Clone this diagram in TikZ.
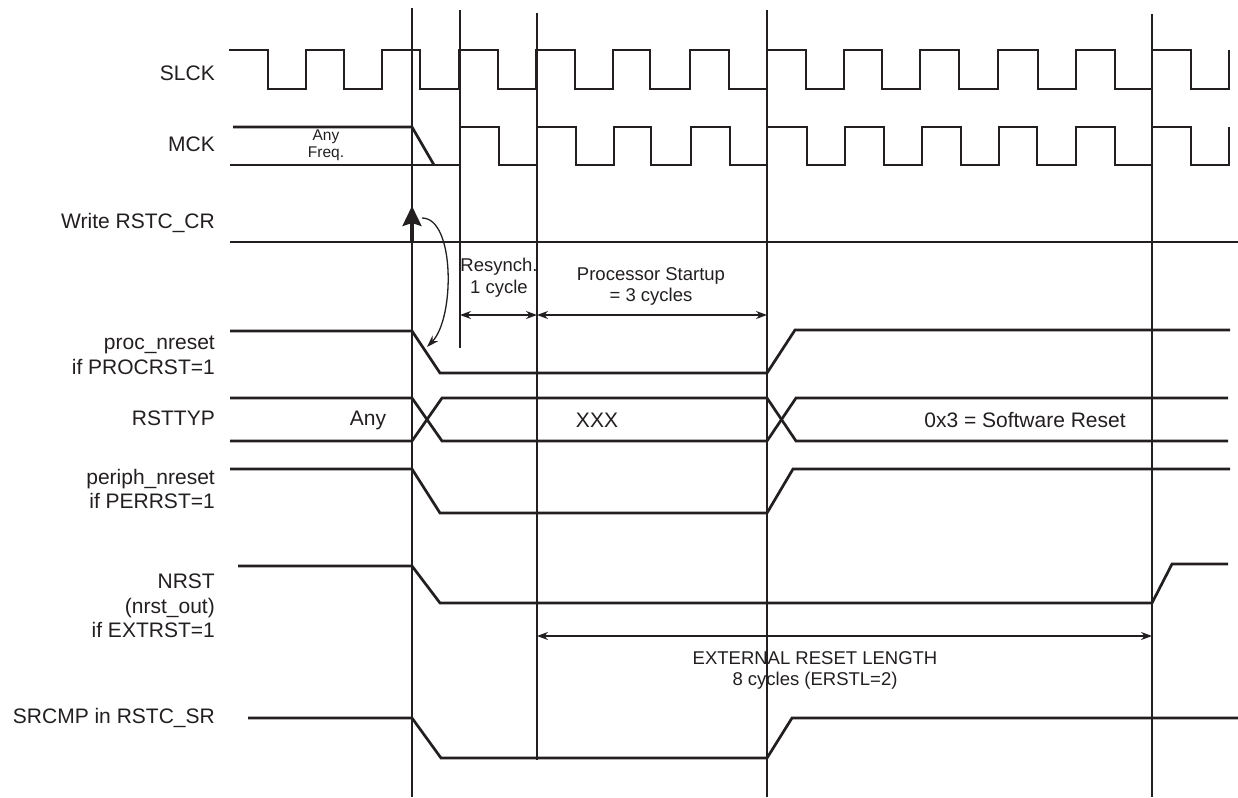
\documentclass[tikz,border=0pt]{standalone}
\usepackage{fontspec}
\setmainfont{Liberation Sans}
\usetikzlibrary{arrows.meta}
\definecolor{ink}{RGB}{35,31,32}
\tikzset{
  sig/.style={draw=ink, line width=2.7pt, line join=miter},
  guide/.style={draw=ink, line width=1.1pt},
  dim/.style={draw=ink, line width=1.2pt, {Stealth[length=11pt,width=8pt]}-{Stealth[length=11pt,width=8pt]}},
  lbl/.style={anchor=east, align=right, text=ink, inner sep=0pt, font=\fontsize{21}{24.5}\selectfont},
  val/.style={text=ink, inner sep=0pt, font=\fontsize{21}{24.5}\selectfont},
  note/.style={text=ink, align=center, inner sep=0pt, font=\fontsize{18.5}{21.5}\selectfont},
  small/.style={text=ink, align=center, inner sep=0pt, font=\fontsize{15.5}{17}\selectfont}
}
\begin{document}
\begin{tikzpicture}[x=1pt,y=-1pt]
\useasboundingbox[fill=white] (0,0) rectangle (1238,797);

% guide lines
\coordinate (g1t) at (412,8);   \coordinate (g1b) at (412,797);
\coordinate (g2t) at (460,10);  \coordinate (g2b) at (460,348);
\coordinate (g3t) at (537,13);  \coordinate (g3b) at (537,760);
\coordinate (g4t) at (767,10);  \coordinate (g4b) at (767,797);
\coordinate (g5t) at (1152,14); \coordinate (g5b) at (1152,797);
\draw[guide] (g1t) -- (g1b);
\draw[guide] (g2t) -- (g2b);
\draw[guide] (g3t) -- (g3b);
\draw[guide] (g4t) -- (g4b);
\draw[guide] (g5t) -- (g5b);

% labels
\node[lbl] (lslck) at (215,73) {SLCK};
\node[lbl] (lmck) at (215,144) {MCK};
\node[lbl] (lwr) at (215,223) {Write RSTC\_CR};
\node[lbl] (lproc) at (215,355.5) {proc\_nreset\\if PROCRST=1};
\node[lbl] (lrst) at (215,418) {RSTTYP};
\node[lbl] (lper) at (215,489) {periph\_nreset\\if PERRST=1};
\node[lbl] (lnrst) at (215,606) {NRST\\(nrst\_out)\\if EXTRST=1};
\node[lbl] (lsr) at (215,718) {SRCMP in RSTC\_SR};

% SLCK
\draw[sig] (229,50) -| (268,89) -| (306,50) -| (344,89) -| (382,50) -| (420,89) -| (459,50) -| (498,89) -| (536,50) -| (575,89) -| (613,50) -| (650,89) -| (690,50) -| (729,89) -| (767,50) -| (806,89) -| (844,50) -| (882,89) -| (920,50) -| (959,89) -| (998,50) -| (1038,89) -| (1076,50) -| (1115,89) -| (1152,50) -| (1191,89) -| (1229,50);

% MCK
\draw[sig] (233,127) -- (412,127) -- (434,165);
\draw[sig] (230,165) -| (460,127) -| (499,165) -| (537,127) -| (576,165) -| (614,127) -| (651,165) -| (691,127) -| (730,165) -| (767,127) -| (807,165) -| (845,127) -| (884,165) -| (922,127) -| (961,165) -| (999,127) -| (1037,165) -| (1076,127) -| (1115,165) -| (1152,127) -| (1191,165) -| (1229,127);
\node[small] (anyf) at (326,145.5) {Any\\Freq.};

% Write RSTC_CR
\draw[sig] (230,242) -- (1238,242);
\coordinate (wrb) at (412,243);
\coordinate (wrt) at (412,206);
\draw[draw=ink, line width=3.2pt, -{Stealth[length=20pt,width=19pt,inset=3pt]}] (wrb) -- (wrt);

% curved cause arrow
\coordinate (cs) at (422,218);
\coordinate (ce) at (427,347);
\draw[draw=ink, line width=1.3pt, -{Stealth[length=12pt,width=8pt]}] (cs) .. controls (455,218) and (455,318) .. (ce);

% proc_nreset
\draw[sig] (230,331) -- (412,331) -- (440,373) -- (767,373) -- (795,330) -- (1230,330);

% annotations
\node[note] (resy) at (499,277.5) {Resynch.\\1 cycle};
\node[note] (pst) at (651,286.5) {Processor Startup\\= 3 cycles};
\coordinate (a1l) at (460,315); \coordinate (a1r) at (537,315);
\coordinate (a2l) at (537,315); \coordinate (a2r) at (767,315);
\draw[dim] (a1l) -- (a1r);
\draw[dim] (a2l) -- (a2r);

% RSTTYP
\draw[sig] (230,398) -- (412,398) -- (442,441) -- (767,441) -- (796,398) -- (1228,398);
\draw[sig] (230,441) -- (412,441) -- (442,398) -- (767,398) -- (796,441) -- (1228,441);
\node[val] (vany) at (368,420) {Any};
\node[val] (vxxx) at (597,420) {XXX};
\node[val] (vsw) at (1025,420) {0x3 = Software Reset};

% periph_nreset
\draw[sig] (230,469) -- (412,469) -- (440,513) -- (767,513) -- (793,469) -- (1230,469);

% NRST
\draw[sig] (238,566) -- (412,566) -- (440,603) -- (1152,603) -- (1172,564) -- (1228,564);
\coordinate (a3l) at (537,636); \coordinate (a3r) at (1152,636);
\draw[dim] (a3l) -- (a3r);
\node[note] (ext) at (815,670.5) {EXTERNAL RESET LENGTH\\8 cycles (ERSTL=2)};

% SRCMP
\draw[sig] (248,718) -- (412,718) -- (441,758) -- (767,758) -- (792,718) -- (1238,718);
\end{tikzpicture}
\end{document}
